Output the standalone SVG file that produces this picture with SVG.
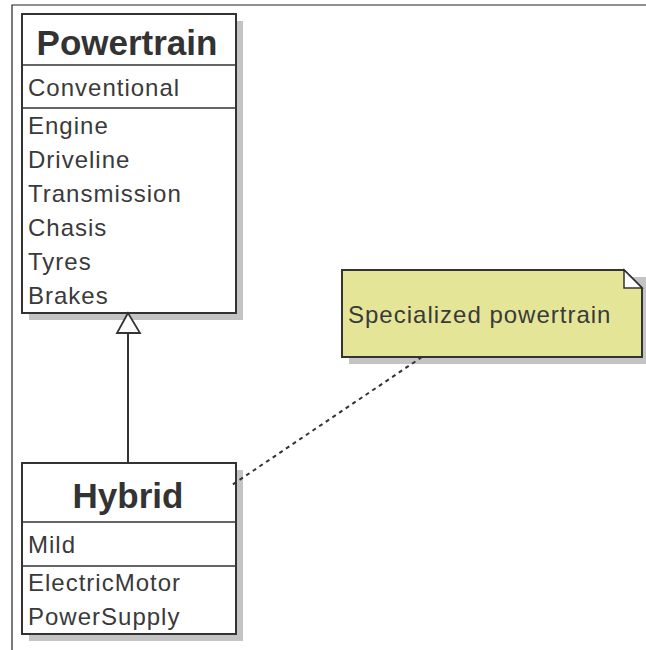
<svg xmlns="http://www.w3.org/2000/svg" width="646" height="650" viewBox="0 0 646 650">
<style>
.frame{stroke:#222;stroke-width:1.2;fill:none}
.shadow{fill:#c4c4c4}
.box{fill:#fff;stroke:#333;stroke-width:2}
.sep{stroke:#333;stroke-width:1.5}
.title{font-family:"Liberation Sans",Arial,sans-serif;font-weight:bold;font-size:35px;fill:#333;text-anchor:middle}
.attr{font-family:"Liberation Sans",Arial,sans-serif;font-size:24px;letter-spacing:1px;fill:#3a3a3a}
.note{fill:#e5e598;stroke:#333;stroke-width:2}
.conn{stroke:#333;stroke-width:2;fill:none}
.dash{stroke:#333;stroke-width:2;fill:none;stroke-dasharray:4 4}
</style>
<rect width="646" height="650" fill="#fff"/>
<path class="frame" d="M12,650 V5 H646"/>
<g id="powertrain">
<rect class="shadow" x="29" y="21" width="214" height="299"/>
<rect class="box" x="22" y="14" width="214" height="299"/>
<line class="sep" x1="22" y1="65" x2="236" y2="65"/>
<line class="sep" x1="22" y1="108" x2="236" y2="108"/>
<text class="title" x="127" y="55">Powertrain</text>
<text class="attr" x="28" y="96">Conventional</text>
<text class="attr" x="28" y="134">Engine</text>
<text class="attr" x="28" y="168">Driveline</text>
<text class="attr" x="28" y="202">Transmission</text>
<text class="attr" x="28" y="236">Chasis</text>
<text class="attr" x="28" y="270">Tyres</text>
<text class="attr" x="28" y="304">Brakes</text>
</g>
<g id="hybrid">
<rect class="shadow" x="29" y="470" width="214" height="171"/>
<rect class="box" x="22" y="463" width="214" height="171"/>
<line class="sep" x1="22" y1="522" x2="236" y2="522"/>
<line class="sep" x1="22" y1="566" x2="236" y2="566"/>
<text class="title" x="128" y="508">Hybrid</text>
<text class="attr" x="28" y="553">Mild</text>
<text class="attr" x="28" y="591">ElectricMotor</text>
<text class="attr" x="28" y="625">PowerSupply</text>
</g>
<g id="note">
<rect class="shadow" x="349" y="277" width="300" height="87"/>
<path class="note" d="M342,270 H624 L642,288 V357 H342 Z"/>
<path d="M624,270 V288 H642 Z" fill="#fff" stroke="#333" stroke-width="1.5"/>
<text class="attr" x="348" y="323">Specialized powertrain</text>
</g>
<g id="connectors">
<line class="conn" x1="128" y1="333" x2="128" y2="463"/>
<polygon points="128,313 117,333 140,333" fill="#fff" stroke="#333" stroke-width="1.8"/>
<line class="dash" x1="422" y1="357" x2="232" y2="485"/>
</g>
</svg>
